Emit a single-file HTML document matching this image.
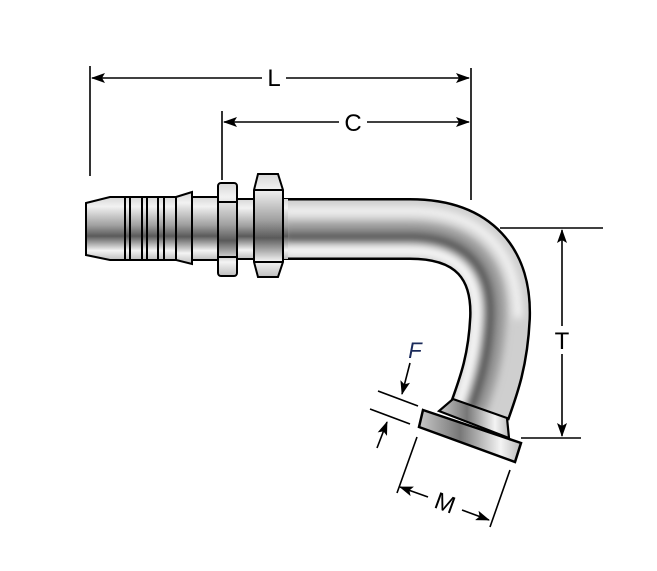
<!DOCTYPE html>
<html><head><style>html,body{margin:0;padding:0;background:#fff}svg{display:block}</style></head>
<body>
<svg width="657" height="571" viewBox="0 0 657 571" xmlns="http://www.w3.org/2000/svg">
<defs>
<linearGradient id="g" x1="0" y1="0" x2="0" y2="1">
<stop offset="0" stop-color="#d8d8d8"/><stop offset="0.15" stop-color="#f2f2f2"/>
<stop offset="0.45" stop-color="#a0a0a0"/><stop offset="0.62" stop-color="#5a5a5a"/>
<stop offset="0.85" stop-color="#f4f4f4"/><stop offset="1" stop-color="#bdbdbd"/>
</linearGradient>
<linearGradient id="gf" x1="0" y1="0" x2="1" y2="0">
<stop offset="0" stop-color="#c8c8c8"/><stop offset="0.4" stop-color="#777"/>
<stop offset="0.8" stop-color="#f4f4f4"/><stop offset="1" stop-color="#bbb"/>
</linearGradient>
<marker id="a" markerWidth="14" markerHeight="10" refX="13" refY="5" orient="auto" markerUnits="userSpaceOnUse">
<path d="M0,0 L14,5 L0,10 L3,5 Z" fill="#000"/></marker>
<filter id="bl" x="-20%" y="-20%" width="140%" height="140%"><feGaussianBlur stdDeviation="4"/></filter>
<mask id="m"><path d="M283 229 L410 229 C475 229 502 265 500 318 C498 360 489 385 480 410" fill="none" stroke="#fff" stroke-width="57"/></mask>
</defs>

<!-- dimension lines -->
<g stroke="#000" stroke-width="1.6" fill="none">
<line x1="90" y1="66" x2="90" y2="176"/>
<line x1="471" y1="68" x2="471" y2="200"/>
<line x1="222" y1="111" x2="222" y2="180"/>
<line x1="262" y1="78" x2="92" y2="78" marker-end="url(#a)"/>
<line x1="286" y1="78" x2="469" y2="78" marker-end="url(#a)"/>
<line x1="339" y1="122" x2="224" y2="122" marker-end="url(#a)"/>
<line x1="367" y1="122" x2="469" y2="122" marker-end="url(#a)"/>
<line x1="500" y1="228" x2="603" y2="228"/>
<line x1="521" y1="438" x2="581" y2="438"/>
<line x1="562" y1="326" x2="562" y2="230" marker-end="url(#a)"/>
<line x1="562" y1="354" x2="562" y2="436" marker-end="url(#a)"/>
<line x1="378" y1="391" x2="418" y2="406"/>
<line x1="370" y1="409" x2="410" y2="424"/>
<line x1="410" y1="363" x2="402" y2="394" marker-end="url(#a)"/>
<line x1="377" y1="448" x2="387" y2="422" marker-end="url(#a)"/>
<line x1="417" y1="437" x2="397" y2="493"/>
<line x1="510" y1="470" x2="490" y2="527"/>
<line x1="428" y1="497" x2="400" y2="487" marker-end="url(#a)"/>
<line x1="462" y1="510" x2="489" y2="520" marker-end="url(#a)"/>
</g>
<g font-family="Liberation Sans, sans-serif" font-size="24" text-anchor="middle">
<text x="274" y="86">L</text>
<text x="353" y="131">C</text>
<text x="562" y="349">T</text>
<text x="415" y="358" fill="#1a2a5a" font-size="22" font-style="italic">F</text>
<text x="445" y="511" transform="rotate(20 445 503)">M</text>
</g>

<!-- bent tube -->
<path d="M283 229 L410 229 C475 229 502 265 500 318 C498 360 489 385 480 410" fill="none" stroke="#000" stroke-width="62"/>
<g mask="url(#m)">
<path d="M283 229 L410 229 C475 229 502 265 500 318 C498 360 489 385 480 410" fill="none" stroke="#cfcfcf" stroke-width="60"/>
<g filter="url(#bl)">
<path d="M283 234 L410 234 C471 234 496 268 494 318 C492 360 483 385 474 410" fill="none" stroke="#9a9a9a" stroke-width="24"/>
<path d="M283 237 L410 237 C468 237 492 270 490 318 C488 360 479 385 470 410" fill="none" stroke="#555" stroke-width="10"/>
<path d="M283 250 L410 250 C458 250 479 276 477 318 C475 355 466 385 457 410" fill="none" stroke="#fafafa" stroke-width="10"/>
<path d="M283 211 L410 211 C488 211 518 258 518 318" fill="none" stroke="#f5f5f5" stroke-width="8"/>
</g>
</g>
<rect x="280" y="199" width="8" height="60" fill="url(#g)"/>

<!-- flange -->
<polygon points="453,399 507,418 509,438 439,411" fill="url(#gf)" stroke="#000" stroke-width="2.2"/>
<polygon points="423,410 521,443 515,462 419,427" fill="url(#gf)" stroke="#000" stroke-width="2.5"/>

<!-- left fitting -->
<g stroke="#000" stroke-width="2" fill="url(#g)">
<path d="M86,203 L110,197 L206,197 L206,260 L110,260 L86,255 Z"/>
<rect x="125" y="197" width="5" height="63"/>
<rect x="142" y="197" width="5" height="63"/>
<rect x="158" y="197" width="6" height="63"/>
<path d="M176,197 L192,192 L192,264 L176,260 Z"/>
<rect x="192" y="197" width="28" height="63"/>
<rect x="218" y="183" width="19" height="93" rx="3"/>
<line x1="218" y1="202" x2="237" y2="202"/>
<line x1="218" y1="257" x2="237" y2="257"/>
<rect x="237" y="199" width="20" height="60"/>
<path d="M258,174 L278,174 L283,190 L283,262 L278,277 L258,277 L254,262 L254,190 Z"/>
<line x1="254" y1="190" x2="283" y2="190"/>
<line x1="254" y1="262" x2="283" y2="262"/>
</g>
</svg>
</body></html>
